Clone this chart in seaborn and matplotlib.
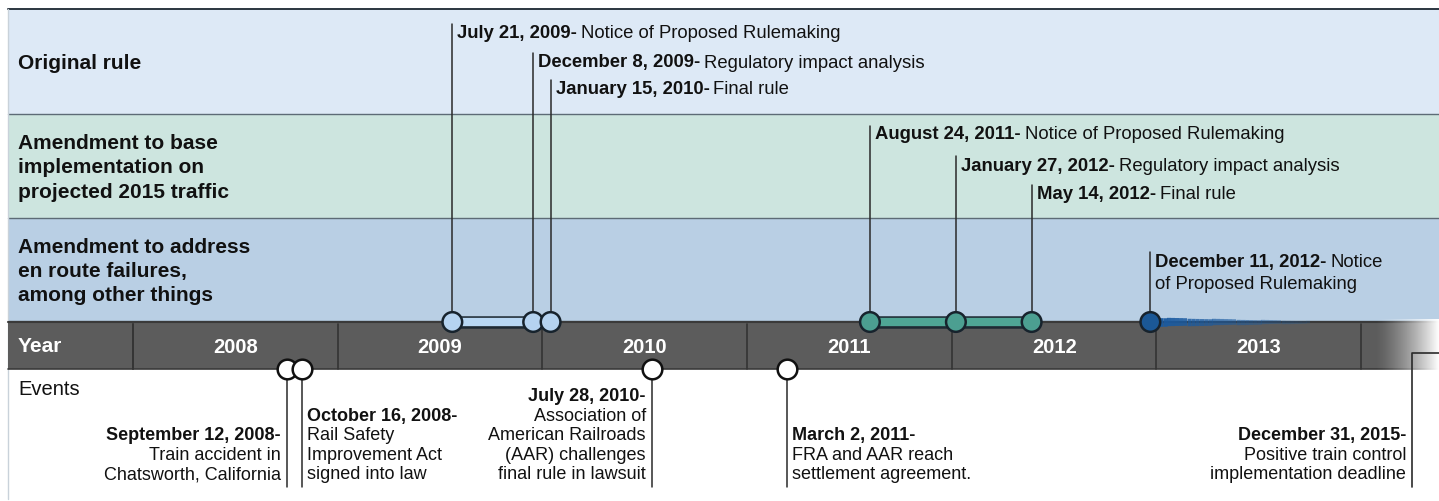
import numpy as np
import pandas as pd
import matplotlib
matplotlib.use("Agg")
import matplotlib.pyplot as plt
import seaborn as sns
from matplotlib.patches import Rectangle

sns.set_theme(style="white")
plt.rcParams['font.family'] = ['Liberation Sans', 'DejaVu Sans']

# ---------------- data ----------------
band_labels = ["Original rule",
               "Amendment to base\nimplementation on\nprojected 2015 traffic",
               "Amendment to address\nen route failures,\namong other things"]
years = [2008, 2009, 2010, 2011, 2012, 2013]

milestone_bold = ["July 21, 2009-", "December 8, 2009-", "January 15, 2010-",
                  "August 24, 2011-", "January 27, 2012-", "May 14, 2012-",
                  "December 11, 2012-"]
milestone_desc = ["Notice of Proposed Rulemaking", "Regulatory impact analysis", "Final rule",
                  "Notice of Proposed Rulemaking", "Regulatory impact analysis", "Final rule",
                  "Notice"]
milestone_desc2 = ["", "", "", "", "", "", "of Proposed Rulemaking"]
milestone_pos = [2009.56, 2009.955, 2010.04, 2011.60, 2012.02, 2012.39, 2012.97]
milestone_group = ["orig", "orig", "orig", "traffic", "traffic", "traffic", "enroute"]
enroute_tail_end = 2013.75

event_bold = ["September 12, 2008-", "October 16, 2008-", "July 28, 2010-",
              "March 2, 2011-", "December 31, 2015-"]
event_desc = [["Train accident in", "Chatsworth, California"],
              ["Rail Safety", "Improvement Act", "signed into law"],
              ["Association of", "American Railroads", "(AAR) challenges", "final rule in lawsuit"],
              ["FRA and AAR reach", "settlement agreement."],
              ["Positive train control", "implementation deadline"]]
event_pos = [2008.75, 2008.825, 2010.535, 2011.195, 2014.25]
event_side = ["left", "right", "left", "right", "left"]

# ---------------- layout ----------------
W, H = 1439, 502
fig = plt.figure(figsize=(W / 100, H / 100), dpi=100)
ax = fig.add_axes([0, 0, 1, 1])
PX0, PXY = 133.0, 204.7


def px(p):
    return 2008 + (p - PX0) / PXY


ax.set_xlim(px(0), px(W))
ax.set_ylim(H, 0)
ax.axis("off")

band_top = [10, 115, 219]
band_bot = [115, 219, 322]
band_col = ["#dde9f6", "#cde5df", "#b9cfe4"]
for t, b, c in zip(band_top, band_bot, band_col):
    ax.add_patch(Rectangle((px(8), t), px(W) - px(8), b - t, facecolor=c, edgecolor="none", zorder=0))
    ax.plot([px(8), px(W)], [b, b], color="#5d6b76", lw=1.0, zorder=1)
ax.plot([px(8), px(W)], [10, 10], color="#2b3640", lw=1.4, zorder=1)
ax.plot([px(8), px(8)], [10, 500], color="#c9d2da", lw=1.0, zorder=1)

# year bar
YB0, YB1 = 322, 370
ax.add_patch(Rectangle((px(8), YB0), px(W) - px(8), YB1 - YB0, facecolor="#5c5c5c", edgecolor="none", zorder=1))
ax.plot([px(8), px(W)], [YB0 + 1, YB0 + 1], color="#3a3a3a", lw=1.5, zorder=2)
ax.plot([px(8), px(W)], [YB1, YB1], color="#3a3a3a", lw=1.2, zorder=2)
for y in years + [2014]:
    ax.plot([y, y], [YB0 + 3, YB1], color="#343434", lw=1.2, zorder=2)
ax.plot([px(133), px(133)], [YB0 + 3, YB1], color="#343434", lw=1.2, zorder=2)
# right fade
grad = np.zeros((1, 200, 4))
grad[..., :3] = 1.0
grad[..., 3] = np.clip(np.linspace(-0.2, 1.0, 200), 0, 1) ** 1.4
ax.imshow(grad, extent=(px(1362), px(W), YB1 + 1, YB0 - 2), aspect="auto", zorder=3,
          interpolation="bilinear")

ax.text(px(18), 347, "Year", color="white", fontsize=15, fontweight="bold", va="center", ha="left", zorder=5)
for y in years:
    ax.text(y + 0.5, 348, str(y), color="white", fontsize=14.5, fontweight="bold",
            va="center", ha="center", zorder=5)
ax.text(px(18), 390, "Events", color="#111111", fontsize=14.5, va="center", ha="left", zorder=5)

# band labels
for lbl, t, b in zip(band_labels, band_top, band_bot):
    ax.text(px(18), (t + b) / 2 + 1, lbl, fontsize=15, fontweight="bold", color="#111111",
            va="center", ha="left", linespacing=1.36, zorder=5)

# ---------------- milestones ----------------
CY = 323
label_y = [33, 63, 89, 135, 167, 195, 263]
line_top = [25, 54, 81, 127, 157, 186, 253]
line_col = "#2a2a2a"
for x, yt in zip(milestone_pos, line_top):
    ax.plot([x, x], [CY, yt], color=line_col, lw=1.1, zorder=4)

mdf = pd.DataFrame({"x": milestone_pos, "y": [CY] * len(milestone_pos), "group": milestone_group})
pal = {"orig": "#b5d3f0", "traffic": "#4c9f91", "enroute": "#1b5896"}
conn = {"orig": "#b9d8f4", "traffic": "#4fa695"}
for g, c in conn.items():
    sub = mdf[mdf.group == g]
    seg = pd.DataFrame({"x": [sub.x.min(), sub.x.max()], "y": [CY, CY]})
    sns.lineplot(data=seg, x="x", y="y", ax=ax, color="#1e2a33", lw=9, zorder=5, legend=False,
                 solid_capstyle="butt")
    sns.lineplot(data=seg, x="x", y="y", ax=ax, color=c, lw=6, zorder=6, legend=False,
                 solid_capstyle="butt")

# dark blue tapered tail
tail_x = np.linspace(milestone_pos[-1], enroute_tail_end, 40)
for i in range(len(tail_x) - 1):
    f = i / (len(tail_x) - 1)
    ax.plot(tail_x[i:i + 2], [CY, CY], color="#1a5aa0", lw=6.5 * (1 - 0.75 * f),
            alpha=1 - 0.8 * f, solid_capstyle="butt", zorder=5)

sns.scatterplot(data=mdf, x="x", y="y", hue="group", palette=pal, s=200, edgecolor="#17232d",
                linewidth=1.8, ax=ax, zorder=8, legend=False)

fig.canvas.draw()
renderer = fig.canvas.get_renderer()
inv = ax.transData.inverted()
FS = 13.3
for x, yl, b, d, d2 in zip(milestone_pos, label_y, milestone_bold, milestone_desc, milestone_desc2):
    xs = x + 5 / PXY
    tb = ax.text(xs, yl, b, fontsize=FS, fontweight="bold", color="#111111", va="center", ha="left", zorder=9)
    bb = tb.get_window_extent(renderer)
    xe = inv.transform((bb.x1 + 4, 0))[0]
    ax.text(xe, yl, d, fontsize=FS, color="#111111", va="center", ha="left", zorder=9)
    if d2:
        ax.text(xs, yl + 22, d2, fontsize=FS, color="#111111", va="center", ha="left", zorder=9)

# ---------------- events ----------------
EY = 370
LSP = 19.5
LAST = 475
EFS = 13
for x, b, lines, side in zip(event_pos, event_bold, event_desc, event_side):
    if x < 2014.1:
        ax.plot([x, x], [EY, 488], color=line_col, lw=1.1, zorder=4)
    n = len(lines)
    y0 = LAST - LSP * n
    if side == "left":
        xt, ha = x - 6 / PXY, "right"
    else:
        xt, ha = x + 5 / PXY, "left"
    ax.text(xt, y0, b, fontsize=EFS, fontweight="bold", color="#111111", va="center", ha=ha, zorder=9)
    for k, ln in enumerate(lines):
        ax.text(xt, y0 + LSP * (k + 1), ln, fontsize=EFS, color="#111111", va="center", ha=ha, zorder=9)

# off-chart deadline bracket
ax.plot([event_pos[-1], event_pos[-1], px(W)], [488, 354, 354], color=line_col, lw=1.2, zorder=6)

edf = pd.DataFrame({"x": event_pos[:4], "y": [EY] * 4})
sns.scatterplot(data=edf, x="x", y="y", s=200, color="white", edgecolor="#111111",
                linewidth=1.8, ax=ax, zorder=8, legend=False)

fig.savefig("out.png", dpi=100)
